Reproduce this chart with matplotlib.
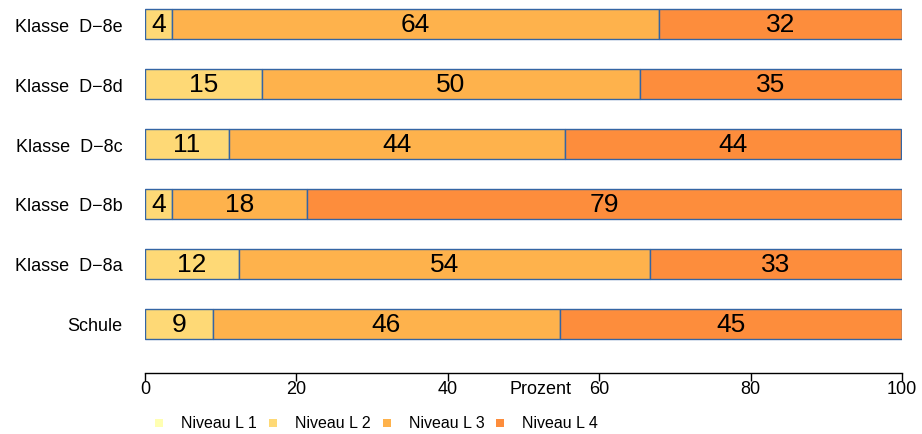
import matplotlib
matplotlib.use("Agg")
import matplotlib.pyplot as plt
from matplotlib.patches import Rectangle

plt.rcParams['font.family'] = ['Liberation Sans', 'DejaVu Sans']

categories = ["Schule", "Klasse  D\u22128a", "Klasse  D\u22128b", "Klasse  D\u22128c",
              "Klasse  D\u22128d", "Klasse  D\u22128e"]
levels = ["Niveau L 1", "Niveau L 2", "Niveau L 3", "Niveau L 4"]
niveau_l1 = [0.0, 0.0, 0.0, 0.0, 0.0, 0.0]
niveau_l2 = [9.0, 12.4, 3.6, 11.1, 15.4, 3.6]
niveau_l3 = [45.8, 54.3, 17.8, 44.4, 50.0, 64.3]
niveau_l4 = [45.2, 33.3, 78.6, 44.4, 34.6, 32.1]
xticks = [0, 20, 40, 60, 80, 100]
colors = ["#FFFFB2", "#FED976", "#FEB24C", "#FD8D3C"]
edge = "#3465A4"

W, H = 922, 435
fig = plt.figure(figsize=(W / 100, H / 100), dpi=100)
ax = fig.add_axes([145 / W, 1 - 374 / H, (902 - 145) / W, 374 / H])

series = [niveau_l1, niveau_l2, niveau_l3, niveau_l4]
ypos = list(range(len(categories)))
left = [0.0] * len(categories)
for vals, col in zip(series, colors):
    ax.barh(ypos, vals, left=left, height=0.5, color=col, edgecolor=edge, linewidth=1.0)
    for y, l, v in zip(ypos, left, vals):
        if v > 0.5:
            ax.text(l + v / 2, y, f"{int(v + 0.5):d}", ha="center", va="center",
                    fontsize=19, color="black")
    left = [a + b for a, b in zip(left, vals)]

ax.set_xlim(0, 100)
ax.set_ylim(-0.817, 5.417)
ax.set_yticks(ypos)
ax.set_yticklabels(categories, fontsize=13)
ax.tick_params(axis="y", length=0, pad=16)
ax.set_xticks(xticks)
ax.set_xticklabels([str(t) for t in xticks], fontsize=13)
ax.tick_params(axis="x", length=6, width=1, pad=-1, direction="out")
for s in ["top", "right", "left"]:
    ax.spines[s].set_visible(False)
ax.spines["bottom"].set_linewidth(1)
ax.text(52.2, -0.817 - 7 / 60, "Prozent", ha="center", va="top", fontsize=13)

# legend
sq_x = [159, 273, 387, 500]
for i, (lab, col) in enumerate(zip(levels, colors)):
    cx = sq_x[i]
    fig.patches.append(Rectangle(((cx - 4) / W, 1 - 428 / H), 8 / W, 8 / H,
                                 transform=fig.transFigure, facecolor=col,
                                 edgecolor="none"))
    fig.text((cx + 22) / W, 1 - 424 / H, lab, ha="left", va="center", fontsize=11.5)

fig.savefig("out.png", dpi=100)
